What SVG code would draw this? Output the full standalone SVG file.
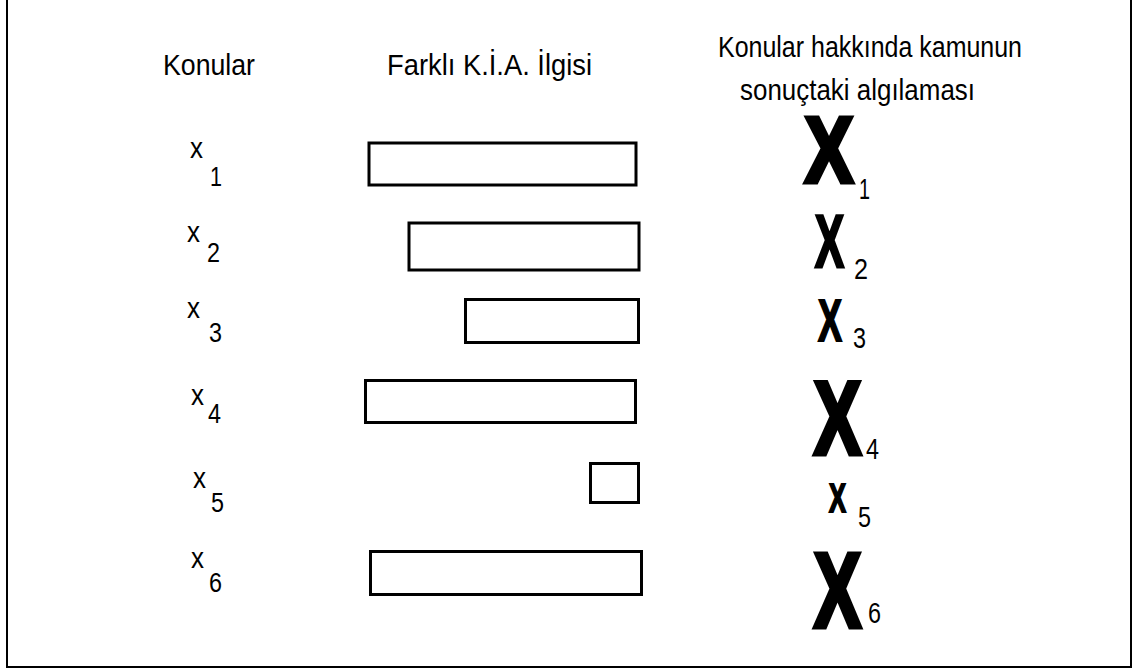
<svg xmlns="http://www.w3.org/2000/svg" width="1134" height="670" viewBox="0 0 1134 670">
<style>
.t{font-family:"Liberation Sans",Arial,sans-serif;fill:#000}
.bar{fill:#fff;stroke:#000;stroke-width:3}
.bx{font-family:"Liberation Sans",Arial,sans-serif;font-weight:bold;fill:#000;stroke:#000;stroke-linejoin:miter}
</style>
<rect width="1134" height="670" fill="#fff"/>
<path d="M7,0 V667 H1131 V0" fill="none" stroke="#000" stroke-width="2"/>
<g id="headers">
<text class="t" x="163" y="75" font-size="30" textLength="92" lengthAdjust="spacingAndGlyphs">Konular</text>
<text class="t" x="387" y="75" font-size="30" textLength="205" lengthAdjust="spacingAndGlyphs">Farklı K.İ.A. İlgisi</text>
<text class="t" x="718" y="57" font-size="30" textLength="304" lengthAdjust="spacingAndGlyphs">Konular hakkında kamunun</text>
<text class="t" x="740" y="100" font-size="30" textLength="235" lengthAdjust="spacingAndGlyphs">sonuçtaki algılaması</text>
</g>
<g id="topic1"><text class="t" x="190" y="158" font-size="30"><tspan textLength="13" lengthAdjust="spacingAndGlyphs">x</tspan><tspan x="210" y="186" font-size="27" textLength="12" lengthAdjust="spacingAndGlyphs">1</tspan></text></g>
<g id="topic2"><text class="t" x="187" y="242" font-size="30"><tspan textLength="13" lengthAdjust="spacingAndGlyphs">x</tspan><tspan x="207" y="262" font-size="27" textLength="13" lengthAdjust="spacingAndGlyphs">2</tspan></text></g>
<g id="topic3"><text class="t" x="187" y="318" font-size="30"><tspan textLength="13" lengthAdjust="spacingAndGlyphs">x</tspan><tspan x="209" y="342" font-size="27" textLength="13" lengthAdjust="spacingAndGlyphs">3</tspan></text></g>
<g id="topic4"><text class="t" x="191" y="405" font-size="30"><tspan textLength="13" lengthAdjust="spacingAndGlyphs">x</tspan><tspan x="208" y="423" font-size="27" textLength="13" lengthAdjust="spacingAndGlyphs">4</tspan></text></g>
<g id="topic5"><text class="t" x="193" y="488" font-size="30"><tspan textLength="13" lengthAdjust="spacingAndGlyphs">x</tspan><tspan x="211" y="512" font-size="27" textLength="13" lengthAdjust="spacingAndGlyphs">5</tspan></text></g>
<g id="topic6"><text class="t" x="191" y="568" font-size="30"><tspan textLength="13" lengthAdjust="spacingAndGlyphs">x</tspan><tspan x="209" y="592" font-size="27" textLength="13" lengthAdjust="spacingAndGlyphs">6</tspan></text></g>
<g id="bar1"><rect class="bar" x="369" y="143" width="267" height="42"/></g>
<g id="bar2"><rect class="bar" x="409" y="223" width="230" height="47"/></g>
<g id="bar3"><rect class="bar" x="465.5" y="299.5" width="173" height="43"/></g>
<g id="bar4"><rect class="bar" x="365.5" y="380.5" width="270" height="42"/></g>
<g id="bar5"><rect class="bar" x="590.5" y="463.5" width="48" height="39"/></g>
<g id="bar6"><rect class="bar" x="370.5" y="551.5" width="271" height="43"/></g>
<g id="perc1"><text class="t" x="805" y="182"><tspan class="bx" font-size="93" stroke-width="5" textLength="48" lengthAdjust="spacingAndGlyphs">X</tspan><tspan x="859" y="199" font-size="29" textLength="11" lengthAdjust="spacingAndGlyphs">1</tspan></text></g>
<g id="perc2"><text class="t" x="815" y="267"><tspan class="bx" font-size="75" stroke-width="3" textLength="29" lengthAdjust="spacingAndGlyphs">X</tspan><tspan x="854" y="279" font-size="29" textLength="14" lengthAdjust="spacingAndGlyphs">2</tspan></text></g>
<g id="perc3"><text class="t" x="818" y="341"><tspan class="bx" font-size="59" stroke-width="2" textLength="24" lengthAdjust="spacingAndGlyphs">X</tspan><tspan x="853" y="348" font-size="29" textLength="13" lengthAdjust="spacingAndGlyphs">3</tspan></text></g>
<g id="perc4"><text class="t" x="814" y="454"><tspan class="bx" font-size="103" stroke-width="5" textLength="47" lengthAdjust="spacingAndGlyphs">X</tspan><tspan x="866" y="459" font-size="29" textLength="13" lengthAdjust="spacingAndGlyphs">4</tspan></text></g>
<g id="perc5"><text class="t" x="829" y="512"><tspan class="bx" font-size="41" stroke-width="2" textLength="17" lengthAdjust="spacingAndGlyphs">X</tspan><tspan x="858" y="527" font-size="29" textLength="13" lengthAdjust="spacingAndGlyphs">5</tspan></text></g>
<g id="perc6"><text class="t" x="814" y="627"><tspan class="bx" font-size="106" stroke-width="5" textLength="47" lengthAdjust="spacingAndGlyphs">X</tspan><tspan x="868" y="623" font-size="29" textLength="13" lengthAdjust="spacingAndGlyphs">6</tspan></text></g>
<g id="connectors"/>
</svg>
